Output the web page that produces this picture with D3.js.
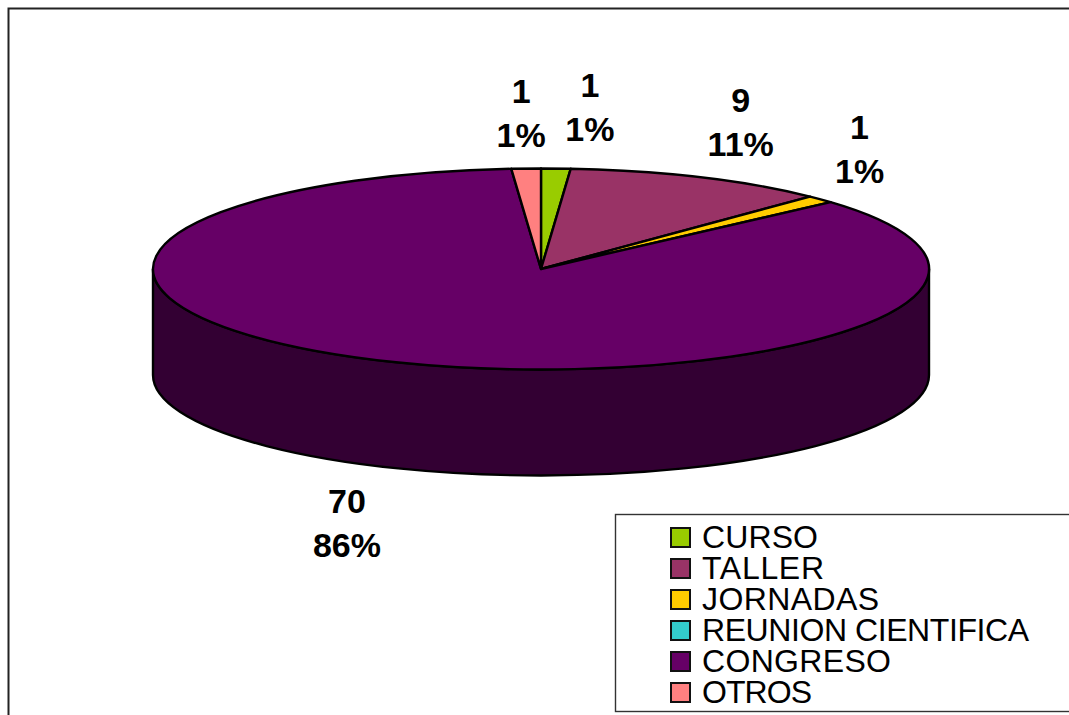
<!DOCTYPE html>
<html><head><meta charset="utf-8">
<script src="https://cdn.jsdelivr.net/npm/d3@7"></script>
<style>html,body{margin:0;padding:0;background:#fff;overflow:hidden}svg{display:block}text{font-family:"Liberation Sans",Arial,sans-serif;fill:#000}</style>
</head><body><svg id="c" width="1069" height="715"></svg>
<script>
const categories = ["CURSO","TALLER","JORNADAS","REUNION CIENTIFICA","CONGRESO","OTROS"];
const values = [1,9,1,0,70,1];
const percents = ["1%","11%","1%","0%","86%","1%"];
const colors = ["#99CC00","#993366","#FFCC00","#33CCCC","#660066","#FF8080"];
const sideColor = "#330033";

(function(){
const svg = d3.select("#c");
const cx=541, cy=269, rx=388, ry=100.5, depth=106, lineGap=44;
const stroke="#000";
// label nudges away from the rim midpoint of each slice
const nudge = [[34,-72],[41,-65],[39,-60],null,[-49,151],[-5,-66]];
// rendered widths of the legend labels in the reference's hinted font
const legendWidths = [116,122,177,327,189,110];

svg.append("path").attr("d","M8.5 715V8.5H1069").attr("fill","none").attr("stroke","#222").attr("stroke-width",2);

const arcs = d3.pie().sort(null).value(d=>d).startAngle(0).endAngle(2*Math.PI)(values);

// side wall of the disc (lower half)
const wall = `M${cx-rx} ${cy}V${cy+depth}A${rx} ${ry} 0 0 0 ${cx+rx} ${cy+depth}V${cy}A${rx} ${ry} 0 0 1 ${cx-rx} ${cy}Z`;
svg.append("path").attr("d",wall).attr("fill",sideColor).attr("stroke",stroke).attr("stroke-width",2.4);

// top face
const arc = d3.arc().innerRadius(0).outerRadius(rx);
const face = svg.append("g").attr("transform",`translate(${cx},${cy}) scale(1,${ry/rx})`);
face.selectAll("path").data(arcs.filter(d=>d.value>0)).join("path")
  .attr("d",arc).attr("fill",d=>colors[d.index])
  .attr("stroke",stroke).attr("stroke-width",2.4).attr("stroke-linejoin","round")
  .attr("vector-effect","non-scaling-stroke");

// data labels
const lab = svg.append("g").attr("font-size",34).attr("font-weight","bold").attr("text-anchor","middle");
arcs.forEach(d=>{
  const n = nudge[d.index]; if(!n) return;
  const m = (d.startAngle+d.endAngle)/2;
  const x = cx+rx*Math.sin(m)+n[0], yy = cy-ry*Math.cos(m)+n[1];
  lab.append("text").attr("x",x).attr("y",yy).text(d.value);
  lab.append("text").attr("x",x).attr("y",yy+lineGap).text(percents[d.index]);
});

// legend
svg.append("rect").attr("x",615.5).attr("y",514.5).attr("width",470).attr("height",197)
  .attr("fill","#fff").attr("stroke","#333").attr("stroke-width",1.4);
const y = d3.scalePoint().domain(categories).range([537,692]);
const leg = svg.append("g").selectAll("g").data(categories).join("g")
  .attr("transform",d=>`translate(0,${y(d)})`);
leg.append("rect").attr("x",671).attr("y",-9).attr("width",19).attr("height",19)
  .attr("fill",(d,i)=>colors[i]).attr("stroke","#111").attr("stroke-width",2);
leg.append("text").attr("x",702).attr("y",11).attr("font-size",32)
  .attr("textLength",(d,i)=>legendWidths[i]).attr("lengthAdjust","spacing").text(d=>d);
})();
</script></body></html>
